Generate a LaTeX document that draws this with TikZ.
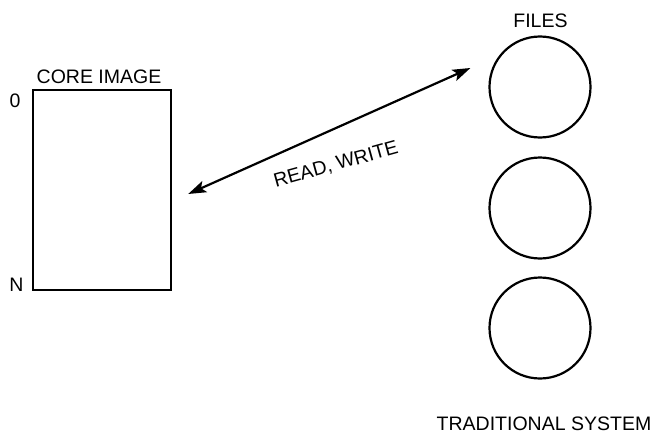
\documentclass[tikz,border=0pt]{standalone}
\usepackage{fontspec}
\setmainfont{Liberation Sans}
\usetikzlibrary{arrows.meta}
\begin{document}
\begin{tikzpicture}[x=1pt,y=-1pt,
  lbl/.style={inner sep=0pt,font=\fontsize{19.5}{20}\selectfont},
  filebox/.style={circle,draw,line width=2.2pt,minimum size=101pt,inner sep=0pt},
  corebox/.style={rectangle,draw,line width=2.4pt,minimum width=138pt,minimum height=200pt,inner sep=0pt},
  rw/.style={line width=2.2pt,{Stealth[length=18pt,width=12pt,inset=4pt]}-{Stealth[length=18pt,width=12pt,inset=4pt]}}]
\useasboundingbox (0,0) rectangle (661,444);
\node[corebox] (core) at (102,190) {};
\node[lbl,anchor=base] (coret) at (99,84) {CORE IMAGE};
\node[lbl,anchor=base] (zero) at (15,107) {0};
\node[lbl,anchor=base] (en) at (16.5,291) {N};
\node[filebox] (f1) at (540,87) {};
\node[filebox] (f2) at (540,208) {};
\node[filebox] (f3) at (540,328) {};
\node[lbl,anchor=base] (files) at (540.5,28) {FILES};
\node[lbl,anchor=base] (trad) at (544,430) {TRADITIONAL SYSTEM};
\coordinate (a) at ([xshift=16pt,yshift=-4pt]core.east);
\coordinate (b) at ([xshift=-18pt,yshift=19pt]f1.west);
\draw[rw] (a) -- (b);
\node[lbl,rotate=15.5] (rwt) at (336,165) {READ, WRITE};
\end{tikzpicture}
\end{document}
